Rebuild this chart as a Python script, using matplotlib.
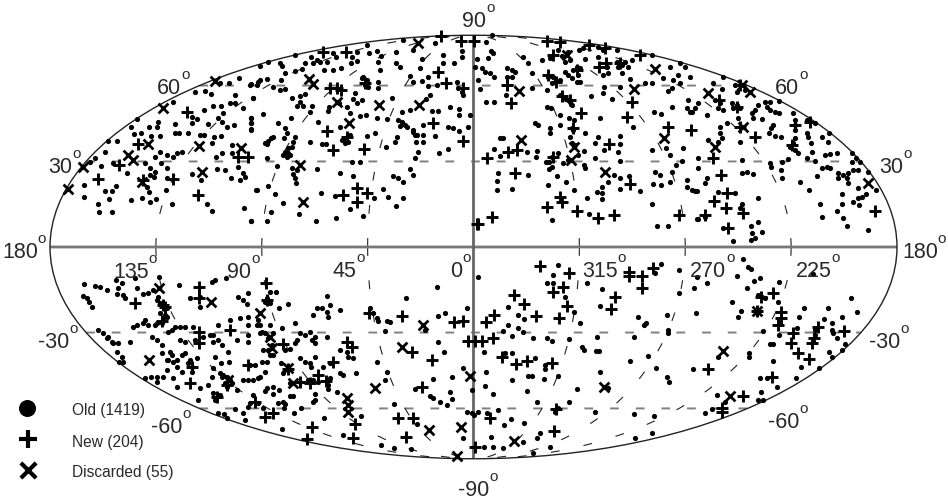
import numpy as np
import matplotlib
matplotlib.use("Agg")
import matplotlib.pyplot as plt

plt.rcParams["font.family"] = ["Liberation Sans", "DejaVu Sans"]

# positions (image pixels), converted to lon/lat below
old_pts = [
    (229,83),(239,78),(220,83),(250,85),(258,82),(195,92),(205,91),(211,94),(173,102),(235,95),(230,103),(235,103),
    (243,108),(253,98),(213,106),(221,106),(204,110),(223,113),(192,117),(197,119),(192,123),(218,118),(222,122),
    (234,125),(227,127),(208,124),(251,118),(251,123),(251,130),(175,124),(175,133),(179,133),(188,133),(200,135),
    (204,135),(212,143),(214,137),(221,136),(135,119),(131,127),(107,141),(117,141),(141,133),(149,127),(158,122),
    (157,127),(151,136),(160,136),(134,134),(105,152),(155,157),(160,152),(167,155),(177,153),(173,157),(182,152),
    (216,157),(222,153),(232,145),(232,153),(101,166),(95,158),(90,162),(113,163),(145,163),(150,168),(161,163),
    (167,168),(127,173),(150,175),(155,172),(154,177),(147,187),(167,178),(192,174),(201,180),(217,169),(225,170),
    (231,178),(240,180),(238,167),(243,173),(245,177),(257,190),(84,185),(84,197),(116,186),(105,191),(112,191),
    (109,199),(98,204),(99,212),(112,212),(131,200),(142,198),(149,192),(150,202),(156,199),(166,190),(172,204),
    (207,204),(212,211),(244,208),(251,221),
    (260,66),(268,62),(280,63),(282,66),(294,55),(311,57),(317,60),(313,63),(305,63),(320,62),(327,62),(333,53),
    (336,57),(357,52),(352,57),(357,61),(367,45),(369,53),(377,51),(381,56),(378,62),(380,70),(351,63),(333,70),
    (341,68),(324,70),(302,69),(295,71),(285,73),(281,80),(267,79),(260,80),(257,85),(251,84),(273,87),(280,90),
    (285,89),(253,98),(292,98),(300,96),(305,94),(300,102),(303,106),(297,106),(312,106),(310,112),(329,107),
    (328,111),(339,103),(347,107),(350,113),(355,93),(353,99),(357,103),(362,100),(367,80),(363,77),(378,82),
    (378,88),(392,98),(403,40),(396,52),(396,63),(400,67),(413,50),(420,68),(410,76),(413,82),(422,81),(428,77),
    (428,86),(422,59),(435,43),(443,55),(443,63),(454,63),(462,51),(462,57),(457,82),(437,85),(430,95),(426,99),
    (402,112),(410,110),(432,111),(438,111),(450,107),(459,109),(459,115),(470,115),(263,114),(251,118),(251,123),
    (251,129),(278,123),(291,118),(318,122),(360,116),(366,115),(377,118),(387,119),(340,127),(468,127),(459,131),
    (453,128),(448,127),(435,136),(423,125),(423,135),(417,135),(423,142),(416,142),(413,132),(367,136),(375,133),
    (397,137),(395,142),(386,147),(310,142),(322,144),(326,144),(448,149),(439,153),(418,152),(415,158),(352,162),
    (360,162),(317,169),(277,166),(267,158),(340,173),(353,176),(393,176),(398,178),(403,182),(410,169),(413,175),
    (256,190),(268,186),(275,194),(283,203),(271,212),(267,221),(251,221),(299,214),(316,221),(336,218),(363,216),
    (321,193),(335,196),(383,189),(388,197),(403,198),(396,206),(350,209),(374,198),(267,144),(268,141),(271,138),
    (273,137),(265,143),(285,128),(287,133),(284,138),(295,137),(293,142),(292,147),(288,148),(285,152),(283,155),
    (287,157),(290,155),(288,153),(292,168),(297,170),(293,174),(295,178),(296,183),(398,120),(402,122),(405,125),
    (400,126),(407,127),(413,130),(415,135),(342,140),(345,138),(350,135),(348,142),(345,143),(365,85),(368,87),
    (362,78),(462,92),(463,95),(458,88),
    (486,42),(495,35),(491,51),(493,53),(488,58),(477,59),(475,67),(482,68),(485,72),(490,73),(494,77),(478,80),
    (480,89),(507,68),(512,70),(515,72),(507,77),(512,77),(532,73),(532,88),(523,57),(528,63),(542,60),(547,90),
    (486,102),(494,102),(506,95),(547,107),(551,108),(538,125),(535,123),(550,128),(550,133),(560,115),(560,125),
    (569,118),(574,120),(572,128),(570,137),(585,133),(600,118),(591,96),(612,99),(604,87),(603,93),(620,87),
    (585,59),(598,57),(598,47),(603,50),(617,50),(583,48),(579,50),(607,67),(608,73),(603,75),(622,73),(628,67),
    (632,60),(630,79),(652,55),(645,83),(652,83),(670,67),(680,63),(685,67),(663,78),(678,75),(673,80),(680,83),
    (690,77),(668,91),(672,88),(688,100),(687,108),(690,112),(698,103),(672,107),(654,112),(661,114),(633,127),
    (598,137),(620,136),(595,143),(620,144),(604,150),(618,152),(595,158),(620,161),(652,150),(666,148),(670,155),
    (683,148),(682,161),(676,165),(698,158),(503,138),(500,138),(494,149),(500,156),(527,152),(537,151),(536,157),
    (546,162),(549,162),(549,169),(563,163),(584,151),(584,165),(585,168),(498,173),(528,175),(497,181),(497,190),
    (512,189),(557,176),(566,182),(548,185),(574,190),(587,198),(597,192),(602,193),(602,199),(602,187),(608,182),
    (614,175),(620,178),(629,176),(620,189),(640,191),(655,172),(660,175),(653,184),(661,185),(670,182),(672,172),
    (687,180),(687,187),(692,190),(697,191),(652,204),(552,220),(589,214),(657,226),(668,226),(697,219),(565,72),
    (568,75),(573,70),(577,67),(580,68),(578,75),(572,78),(577,82),(580,82),(548,77),(553,77),(555,82),(560,80),
    (552,83),(562,56),(568,52),(570,60),(565,62),(558,50),(550,58),(617,62),(622,65),(625,62),(618,67),(560,95),
    (565,98),(570,102),(568,100),(572,105),(573,130),(572,143),(575,145),(578,155),(568,160),(552,157),(558,153),
    (552,167),
    (713,83),(723,77),(737,92),(735,85),(745,90),(722,89),(765,102),(770,102),(758,105),(780,101),(793,113),
    (752,113),(755,110),(767,107),(770,110),(775,112),(779,113),(753,118),(762,119),(732,103),(737,105),(740,108),
    (733,108),(720,103),(718,108),(723,110),(715,100),(695,108),(692,112),(707,115),(738,118),(727,123),(720,127),
    (720,133),(722,138),(740,142),(708,140),(718,142),(773,125),(771,128),(769,133),(775,136),(781,137),(795,120),
    (795,125),(795,130),(795,138),(793,143),(790,147),(795,150),(798,153),(807,133),(808,137),(811,143),(812,152),
    (822,137),(829,133),(828,142),(807,120),(815,123),(825,155),(830,154),(837,153),(807,158),(815,161),(822,168),
    (827,167),(830,168),(782,162),(788,159),(770,163),(771,167),(781,170),(782,178),(817,176),(800,182),(809,190),
    (698,168),(742,160),(742,173),(747,172),(753,174),(707,178),(705,183),(695,191),(718,192),(735,193),(758,198),
    (820,204),(822,217),(837,211),(842,194),(842,204),(843,218),(847,226),(868,230),(858,158),(857,153),(852,162),
    (862,162),(870,172),(838,173),(838,178),(843,175),(848,173),(853,170),(858,170),(847,178),(848,183),(858,188),
    (866,194),(876,190),(862,197),(853,202),(858,198),(859,205),(758,222),(751,226),(752,233),(762,232),(755,238),
    (751,240),(733,241),(698,219),(705,217),(742,204),(740,208),(723,228),
    (84,284),(95,286),(100,287),(107,290),(83,296),(87,298),(89,302),(92,307),(116,280),(122,283),(118,288),
    (117,294),(123,295),(125,298),(135,278),(137,288),(143,294),(148,293),(153,290),(159,277),(179,285),(190,298),
    (200,297),(200,307),(212,282),(215,280),(226,278),(238,297),(243,300),(248,293),(247,304),(98,330),(103,333),
    (107,338),(112,342),(118,343),(130,342),(117,352),(122,357),(123,362),(119,362),(133,327),(137,325),(145,320),
    (143,323),(148,325),(155,325),(163,318),(160,313),(167,317),(168,332),(175,327),(180,327),(185,327),(193,327),
    (172,330),(152,337),(157,340),(162,345),(180,340),(185,342),(195,340),(203,337),(213,335),(213,342),(218,325),
    (218,340),(222,345),(210,335),(230,320),(240,318),(248,317),(248,325),(237,340),(248,335),(248,342),(162,353),
    (170,352),(172,355),(167,360),(177,367),(182,355),(185,353),(197,358),(215,357),(221,363),(228,352),(229,362),
    (182,372),(167,370),(163,377),(157,377),(151,377),(157,382),(145,378),(173,378),(177,387),(200,388),(212,377),
    (208,385),(213,368),(220,373),(237,390),(243,380),(248,380),(198,400),(213,393),(215,400),(220,395),(224,414),
    (227,418),(218,413),(235,409),(243,413),(248,407),(245,420),(157,300),(160,303),(163,305),(167,308),(158,297),
    (157,323),(162,323),(165,315),(223,375),(227,377),(230,380),(225,383),(232,383),(227,387),(222,377),(168,360),
    (173,362),(177,360),(190,360),(192,367),(192,372),(188,363),(108,337),(113,343),
    (270,292),(276,292),(267,298),(265,302),(270,303),(279,308),(288,304),(295,323),(327,296),(330,305),(317,308),
    (322,308),(313,315),(327,312),(328,317),(340,310),(370,308),(373,313),(377,318),(378,321),(387,321),(390,322),
    (406,298),(437,287),(438,316),(445,313),(467,308),(478,277),(282,328),(300,333),(305,335),(310,332),(315,337),
    (312,340),(315,343),(327,337),(297,340),(295,343),(290,349),(285,350),(340,350),(347,352),(348,357),(353,358),
    (385,331),(438,342),(444,352),(425,330),(377,362),(387,372),(385,380),(452,377),(463,368),(433,379),(472,390),
    (450,392),(452,399),(447,405),(440,402),(433,398),(430,396),(415,389),(394,404),(300,358),(305,362),(315,357),
    (311,367),(310,363),(340,373),(343,375),(356,373),(328,389),(337,392),(315,394),(315,400),(313,402),(301,408),
    (294,413),(290,396),(293,396),(285,404),(283,402),(278,403),(284,408),(279,390),(273,387),(267,388),(265,391),
    (273,394),(263,408),(324,418),(361,416),(467,412),(472,413),(478,412),(282,429),(343,435),(381,445),(394,448),
    (411,449),(463,438),(417,424),(281,363),(283,373),(250,365),(255,365),(262,362),(267,362),(265,372),(260,377),
    (253,380),(258,378),(323,367),(330,363),(300,382),(290,383),(308,380),(313,380),(318,382),(328,385),(330,378),
    (253,395),(258,403),(250,403),(257,325),(262,332),(265,333),(268,338),(273,333),(272,345),(273,355),(268,350),
    (270,355),(263,350),(260,325),(258,320),(260,333),(270,325),
    (558,265),(553,275),(547,283),(553,283),(565,297),(587,283),(602,289),(600,306),(574,312),(580,323),(508,307),
    (518,315),(524,319),(508,325),(503,331),(518,328),(523,332),(512,336),(533,338),(547,338),(552,341),(569,339),
    (597,337),(582,347),(584,350),(596,351),(599,351),(634,337),(638,317),(646,323),(644,325),(667,315),(696,313),
    (694,288),(679,270),(661,264),(655,273),(648,356),(630,361),(656,368),(667,377),(669,382),(693,369),(600,372),
    (577,389),(608,388),(569,402),(595,412),(634,414),(654,416),(635,438),(652,433),(550,447),(533,453),(537,438),
    (540,433),(523,442),(524,423),(511,419),(504,425),(491,437),(484,447),(493,447),(503,448),(498,410),(487,413),
    (474,415),(527,391),(537,402),(493,394),(485,386),(486,372),(512,380),(528,376),(532,376),(544,379),(558,376),
    (545,365),(545,369),(535,358),(512,353),(484,352),(505,353),(679,293),(668,330),(668,333),(558,408),(555,412),
    (743,259),(748,267),(751,269),(737,276),(754,281),(760,278),(779,282),(813,274),(707,283),(697,277),(747,288),
    (758,295),(762,297),(765,298),(732,302),(778,302),(741,311),(738,317),(804,308),(799,317),(828,308),(851,298),
    (857,312),(824,319),(842,317),(832,323),(832,330),(763,331),(779,335),(797,328),(770,344),(773,344),(833,333),
    (837,338),(845,344),(842,350),(829,352),(832,357),(773,361),(749,353),(749,357),(718,357),(801,367),(819,368),
    (760,378),(767,378),(796,378),(777,387),(761,392),(717,395),(758,400),(763,400),(725,402),(712,409),(705,413),
    (815,330),(815,335),
]

new_pts = [
    (98,179),(119,165),(138,144),(187,112),(173,179),(198,195),(248,157),(238,157),(143,180),
    (323,52),(346,52),(441,36),(461,41),(474,41),(438,72),(446,83),(463,88),(337,88),(330,88),(341,90),(365,83),
    (433,123),(327,131),(333,150),(347,137),(364,149),(463,141),(357,188),(343,195),(367,193),(357,202),(477,224),
    (547,41),(560,42),(553,55),(589,45),(605,48),(640,55),(599,67),(606,63),(620,63),(548,75),(556,82),(577,70),
    (507,85),(511,103),(562,96),(570,100),(632,102),(627,117),(581,113),(573,128),(668,127),(691,130),(609,144),
    (508,152),(517,150),(487,158),(553,157),(515,173),(630,184),(560,197),(562,202),(547,207),(577,211),(598,218),
    (614,215),(492,217),(478,224),(679,215),
    (719,100),(737,107),(740,85),(810,122),(755,137),(792,145),(713,158),(721,175),(727,193),(714,201),(726,208),
    (743,213),(705,215),(728,228),(875,211),(740,127),(795,125),
    (135,303),(199,287),(199,298),(163,305),(165,307),(162,321),(199,332),(199,343),(230,330),(190,383),(192,367),
    (227,385),(217,397),(248,365),
    (266,283),(267,300),(283,344),(333,362),(318,375),(347,342),(352,347),(369,313),(402,316),(412,352),(432,360),
    (422,387),(454,322),(463,321),(468,341),(475,341),(310,383),(300,382),(326,381),(288,369),(265,417),(273,413),
    (312,427),(307,439),(355,424),(353,438),(398,418),(413,418),(406,437),(475,447),(255,402),
    (540,266),(569,273),(629,272),(642,276),(653,268),(642,288),(615,297),(611,309),(514,295),(524,304),(536,316),
    (559,318),(567,306),(553,292),(563,287),(494,315),(486,322),(493,338),(482,341),(502,357),(516,364),(527,361),
    (552,363),(490,418),(556,409),(554,431),(629,276),
    (773,293),(761,297),(757,311),(781,312),(781,318),(778,325),(793,333),(791,343),(818,327),(814,338),(812,343),
    (844,331),(798,353),(809,359),(708,369),(772,377),(743,396),(722,412),(722,408),
]

discarded_pts = [
    (67,189),(82,167),(163,108),(215,81),(199,146),(202,172),(142,182),(148,144),(133,160),(128,155),(241,148),
    (309,79),(313,84),(337,102),(379,105),(419,105),(349,123),(300,165),(303,202),(418,43),
    (519,91),(634,89),(655,69),(605,172),(664,138),(521,140),(574,147),(571,160),(567,55),
    (708,93),(750,92),(742,85),(715,147),(743,127),(868,183),
    (159,288),(211,302),(149,360),(228,380),
    (260,313),(270,337),(272,348),(288,368),(347,398),(348,412),(375,388),(402,347),(423,325),(429,430),(461,427),
    (457,456),(470,376),(293,383),(348,405),
    (514,441),(604,387),(723,351),(730,396),(757,311),
]

lat_lines = [-60, -30, 30, 60]
lon_lines = [-135, -90, -45, 45, 90, 135]

# text, left edge, baseline
deg_labels = [
    ("90", 462, 27), ("-90", 458, 496),
    ("180", 2, 258), ("180", 902, 258),
    ("60", 157, 94), ("60", 775, 94),
    ("30", 48, 173), ("30", 879, 173),
    ("135", 113, 278), ("90", 227, 278), ("45", 333, 277), ("0", 450, 277),
    ("315", 582, 277), ("270", 690, 277), ("225", 796, 277),
    ("-30", 38, 348), ("-30", 869, 348),
    ("-60", 151, 433), ("-60", 768, 428),
]

legend_names = ["Old (1419)", "New (204)", "Discarded (55)"]


def to_lonlat(pts):
    # inverse mollweide for the digitised positions
    pts = np.array(pts, dtype=float)
    xm = (pts[:, 0] - 473.5) / 423.5
    ym = np.clip((247 - pts[:, 1]) / 212.0, -0.999, 0.999)
    theta = np.arcsin(ym)
    lat = np.arcsin((2 * theta + np.sin(2 * theta)) / np.pi)
    lon = np.clip(np.pi * xm / np.cos(theta), -3.13, 3.13)
    return lon, lat


fig = plt.figure(figsize=(9.48, 5.04), dpi=100)
ax = fig.add_axes([50 / 948, 1 - 459 / 504, 847 / 948, 424 / 504], projection="mollweide")
ax.grid(False)
ax.set_xticklabels([])
ax.set_yticklabels([])
ax.spines["geo"].set_linewidth(1.0)
ax.spines["geo"].set_edgecolor("#222222")

lons = np.linspace(-np.pi, np.pi, 200)
lats = np.linspace(0, np.pi / 2 - 0.001, 200)

for b in lat_lines:
    ax.plot(lons, np.full_like(lons, np.radians(b)), color="#808080", lw=1.4, dashes=(4.5, 8.7), zorder=1)
for l in lon_lines:
    for s in [1, -1]:
        ax.plot(np.full_like(lats, np.radians(l)), s * lats, color="#222222", lw=0.8, dashes=(8, 22), zorder=1)

ax.plot(lons, np.zeros_like(lons), color="#777777", lw=2, zorder=1.5)
ax.plot(np.zeros_like(lats), lats, color="#666666", lw=2, zorder=1.5)
ax.plot(np.zeros_like(lats), -lats, color="#666666", lw=2, zorder=1.5)

lon, lat = to_lonlat(old_pts)
ax.scatter(lon, lat, s=14, c="black", linewidths=0, zorder=3, clip_on=False)
lon, lat = to_lonlat(new_pts)
ax.scatter(lon, lat, s=72, c="black", marker="+", linewidths=2.1, zorder=4, clip_on=False)
lon, lat = to_lonlat(discarded_pts)
ax.scatter(lon, lat, s=50, c="black", marker="x", linewidths=2.0, zorder=4, clip_on=False)

# overlay in picture pixels for labels and the legend
ov = fig.add_axes([0, 0, 1, 1])
ov.set_xlim(0, 948)
ov.set_ylim(504, 0)
ov.axis("off")
ov.patch.set_alpha(0)

fig.canvas.draw()
rend = fig.canvas.get_renderer()
for txt, x, y in deg_labels:
    t = ov.text(x, y, txt, fontsize=15.5, color="#2a2a2a", ha="left", va="baseline")
    w = t.get_window_extent(rend).width
    ov.text(x + w, y - 15, "o", fontsize=11, color="#2a2a2a", ha="left", va="baseline")

ov.scatter([27], [408], s=150, c="black", linewidths=0)
ov.scatter([28], [439], s=170, c="black", marker="+", linewidths=3)
ov.scatter([28], [470], s=120, c="black", marker="x", linewidths=3)
for name, y in zip(legend_names, [411, 442, 473]):
    ov.text(72, y, name, fontsize=11.2, color="#2a2a2a", ha="left", va="center")

fig.savefig("out.png", dpi=100)
